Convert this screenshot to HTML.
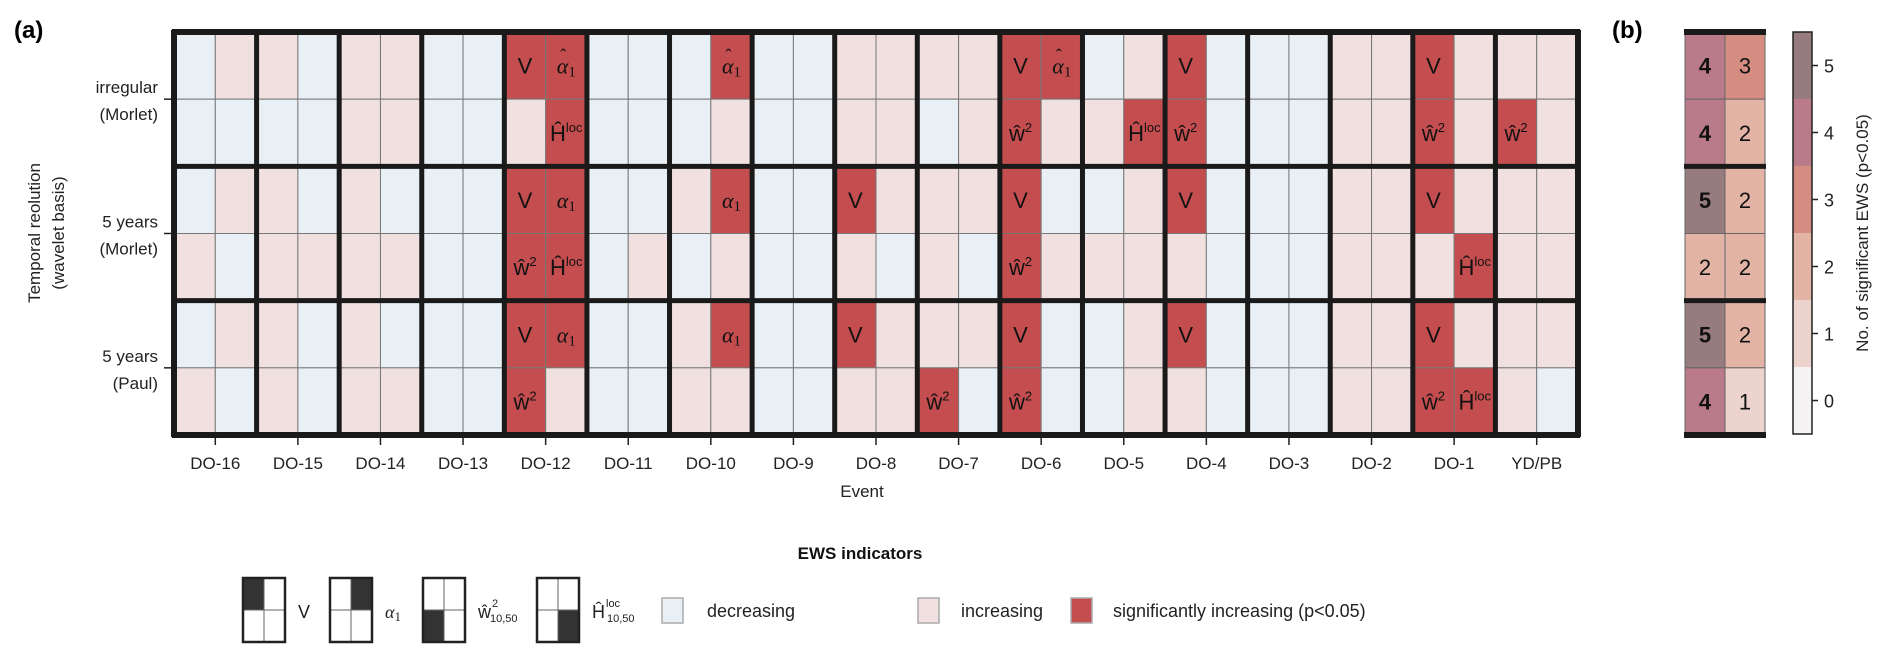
<!DOCTYPE html>
<html><head><meta charset="utf-8"><style>
html,body{margin:0;padding:0;background:#fff;}
svg{display:block;font-family:"Liberation Sans",Arial,sans-serif;}
</style></head><body>
<svg id="svg" width="1892" height="663" viewBox="0 0 1892 663" xmlns="http://www.w3.org/2000/svg">
<text x="14" y="38" font-size="24" font-weight="bold">(a)</text>
<text x="1612" y="38" font-size="24" font-weight="bold">(b)</text>
<g id="grid"></g>
<g id="pb"></g>
<g id="cb"></g>
<g id="legend"></g>
</svg>
<script>
const events=["DO-16","DO-15","DO-14","DO-13","DO-12","DO-11","DO-10","DO-9","DO-8","DO-7","DO-6","DO-5","DO-4","DO-3","DO-2","DO-1","YD/PB"];
const rowLabels=[["irregular","(Morlet)"],["5 years","(Morlet)"],["5 years","(Paul)"]];
// quadrant order per event: [V, alpha1, w2, Hloc]; 0=decreasing,1=increasing,2=significant
const row0=[[0,1,0,0],[1,0,0,0],[1,1,1,1],[0,0,0,0],[2,2,1,2],[0,0,0,0],[0,2,0,1],[0,0,0,0],[1,1,1,1],[1,1,0,1],[2,2,2,1],[0,1,1,2],[2,0,2,0],[0,0,0,0],[1,1,1,1],[2,1,2,1],[1,1,2,1]];
const row1=[[0,1,1,0],[1,0,1,1],[1,0,1,1],[0,0,0,0],[2,2,2,2],[0,0,0,1],[1,2,0,1],[0,0,0,0],[2,1,1,0],[1,1,1,0],[2,0,2,1],[0,1,1,1],[2,0,1,0],[0,0,0,0],[1,1,1,1],[2,1,1,2],[1,1,1,1]];
const row2=[[0,1,1,0],[1,0,1,0],[1,0,1,1],[0,0,0,0],[2,2,2,1],[0,0,0,0],[1,2,1,1],[0,0,0,0],[2,1,1,1],[1,1,2,0],[2,0,2,0],[0,1,0,1],[2,0,1,0],[0,0,0,0],[1,1,1,1],[2,1,2,2],[1,1,1,0]];
const cbTicks=[0,1,2,3,4,5];
const rows=[row0,row1,row2];
const NS="http://www.w3.org/2000/svg";
const fill=["#e8f0f6","#f1e0e0","#c44e4f"];
const cbColors=["#f5f3f3","#ecd3cd","#e3b4a6","#d58d82","#b97a8a","#967b7f"];
function mk(tag,attrs,parent){const e=document.createElementNS(NS,tag);for(const k in attrs)e.setAttribute(k,attrs[k]);parent.appendChild(e);return e;}
const X0=174,X1=1578,Y0=32,Y1=435;
const ew=(X1-X0)/events.length, rh=(Y1-Y0)/rows.length;
const xE=i=>X0+i*ew, yR=r=>Y0+r*rh;
const g=document.getElementById('grid');
function labelHTML(q,r){
  if(q===0) return {t:"V",sup:""};
  if(q===1) return {t:"α",sub:"1"};
  if(q===2) return {t:"ŵ",sup:"2"};
  return {t:"Ĥ",sup:"loc"};
}
rows.forEach((row,r)=>{
  row.forEach((vals,i)=>{
    vals.forEach((v,q)=>{
      const cx=xE(i)+(q%2)*ew/2, cy=yR(r)+Math.floor(q/2)*rh/2;
      const rc=mk('rect',{x:cx,y:cy,width:ew/2,height:rh/2,fill:fill[v],stroke:"#777","stroke-width":1},g);
      
      
      if(v===2){
        const L=labelHTML(q,r);
        const tx=mk('text',{x:cx+ew/4,y:cy+rh/4+8,"text-anchor":"middle","font-size":"22",fill:"#111"},g);
        
        
        if(q===1){tx.setAttribute('font-family','"Liberation Serif",serif');tx.setAttribute('font-style','italic');}
        const a=document.createElementNS(NS,'tspan');a.textContent=L.t;tx.appendChild(a);
        if(L.sup){const s=document.createElementNS(NS,'tspan');s.setAttribute('font-size','13');s.setAttribute('dy','-9');s.textContent=L.sup;tx.appendChild(s);}
        if(L.sub){const s=document.createElementNS(NS,'tspan');s.setAttribute('font-size','15');s.setAttribute('dy','3');s.setAttribute('font-style','normal');s.textContent=L.sub;tx.appendChild(s);}
        if(q===1&&r===0){
          const h=mk('text',{x:cx+ew/4-3,y:cy+rh/4-4,"text-anchor":"middle","font-size":"18",fill:"#111","font-family":'"Liberation Serif",serif'},g);
          
          
          h.textContent="ˆ";
        }
      }
    });
  });
});
for(let i=0;i<=events.length;i++){const l=mk('line',{x1:xE(i),x2:xE(i),y1:Y0-2,y2:Y1+2,stroke:"#1a1a1a","stroke-width":(i===0||i===events.length)?6:5},g);
}
for(let r=0;r<=rows.length;r++){const l=mk('line',{x1:X0-2,x2:X1+2,y1:yR(r),y2:yR(r),stroke:"#1a1a1a","stroke-width":(r===0||r===rows.length)?6:5},g);
}
events.forEach((e,i)=>{
  const xc=xE(i)+ew/2;
  mk('line',{x1:xc,x2:xc,y1:Y1+3,y2:Y1+10,stroke:"#222","stroke-width":1.5},g);
  const t=mk('text',{x:xc,y:469,"text-anchor":"middle","font-size":17,fill:"#222"},g);
  t.textContent=e;
  
  
});
const et=mk('text',{x:862,y:497,"text-anchor":"middle","font-size":17,fill:"#222"},g);et.textContent="Event";

rowLabels.forEach((lb,r)=>{
  const yc=yR(r)+rh/2;
  mk('line',{x1:X0-10,x2:X0-3,y1:yc,y2:yc,stroke:"#222","stroke-width":1.5},g);
  lb.forEach((s,k)=>{const t=mk('text',{x:158,y:yc-6+k*27,"text-anchor":"end","font-size":17,fill:"#222"},g);t.textContent=s;
  });
});
["Temporal reolution","(wavelet basis)"].forEach((s,k)=>{
  const t=mk('text',{x:0,y:0,"text-anchor":"middle","font-size":17,fill:"#222",transform:`translate(${40+k*24},233) rotate(-90)`},g);t.textContent=s;
  
});
const pb=document.getElementById('pb');
const BX0=1685,BX1=1765,bw=(BX1-BX0)/2;
rows.forEach((row,r)=>{
  for(let q=0;q<4;q++){
    let c=0;row.forEach(v=>{if(v[q]===2)c++;});
    const cx=BX0+(q%2)*bw, cy=yR(r)+Math.floor(q/2)*rh/2;
    const rc=mk('rect',{x:cx,y:cy,width:bw,height:rh/2,fill:cbColors[Math.min(c,5)],stroke:"#666","stroke-width":1},pb);
    
    const t=mk('text',{x:cx+bw/2,y:cy+rh/4+8,"text-anchor":"middle","font-size":22,"font-weight":(c>=4?"bold":"normal"),fill:"#111"},pb);t.textContent=c;
    
  }
});
for(let r=0;r<=rows.length;r++){mk('line',{x1:BX0-1,x2:BX1+1,y1:yR(r),y2:yR(r),stroke:"#1a1a1a","stroke-width":(r===0||r===rows.length)?6:5},pb);}
const cb=document.getElementById('cb');
const CX=1793,CW=19,CY0=32,CY1=434,ch=(CY1-CY0)/cbTicks.length;
cbTicks.forEach((v,k)=>{
  const y=CY1-(k+1)*ch;
  const rc=mk('rect',{x:CX,y:y,width:CW,height:ch,fill:cbColors[v]},cb);
  
  mk('line',{x1:CX+CW,x2:CX+CW+6,y1:y+ch/2,y2:y+ch/2,stroke:"#222","stroke-width":1.5},cb);
  const t=mk('text',{x:CX+CW+12,y:y+ch/2+7,"font-size":18,fill:"#222"},cb);t.textContent=v;
  
});
mk('rect',{x:CX,y:CY0,width:CW,height:CY1-CY0,fill:"none",stroke:"#222","stroke-width":1.5},cb);
const ct=mk('text',{x:0,y:0,"text-anchor":"middle","font-size":17,fill:"#222",transform:`translate(1868,233) rotate(-90)`},cb);ct.textContent="No. of significant EWS (p<0.05)";

const lg=document.getElementById('legend');
const lt=mk('text',{x:860,y:559,"text-anchor":"middle","font-size":17,"font-weight":"bold",fill:"#111"},lg);lt.textContent="EWS indicators";

const icons=[[243,0,"V"],[330,1,"α"],[423,2,"ŵ"],[537,3,"Ĥ"]];
icons.forEach(([x,q,s])=>{
  const gi=mk('g',{},lg);
  
  for(let k=0;k<4;k++){mk('rect',{x:x+(k%2)*21,y:578+Math.floor(k/2)*32,width:21,height:32,fill:k===q?"#333":"#fff",stroke:"#666","stroke-width":1},gi);}
  mk('rect',{x:x,y:578,width:42,height:64,fill:"none",stroke:"#222","stroke-width":2.5},gi);
  const t=mk('text',{x:x+55,y:618,"font-size":18,fill:"#222"},gi);
  if(q===1){t.setAttribute('font-family','"Liberation Serif",serif');t.setAttribute('font-style','italic');}
  const a=document.createElementNS(NS,'tspan');a.textContent=s;t.appendChild(a);
  if(q===1){const b=document.createElementNS(NS,'tspan');b.setAttribute('font-style','normal');b.setAttribute('font-size','13');b.setAttribute('dy','3');b.textContent="1";t.appendChild(b);}
  if(q>=2){
    const sup=mk('text',{x:x+69,y:607,"font-size":11,fill:"#222"},gi);sup.textContent=q===2?"2":"loc";
    const sub=mk('text',{x:x+(q===2?67:70),y:622,"font-size":11,fill:"#222"},gi);sub.textContent="10,50";
  }
});
const sw=[[662,0,"decreasing",707],[918,1,"increasing",961],[1071,2,"significantly increasing (p<0.05)",1113]];
sw.forEach(([x,v,s,tx])=>{
  const r=mk('rect',{x:x,y:598,width:21,height:25,fill:fill[v],stroke:"#aaa","stroke-width":1.5},lg);
  
  const t=mk('text',{x:tx,y:617,"font-size":18,fill:"#222"},lg);t.textContent=s;
  
});
</script>
</body></html>
